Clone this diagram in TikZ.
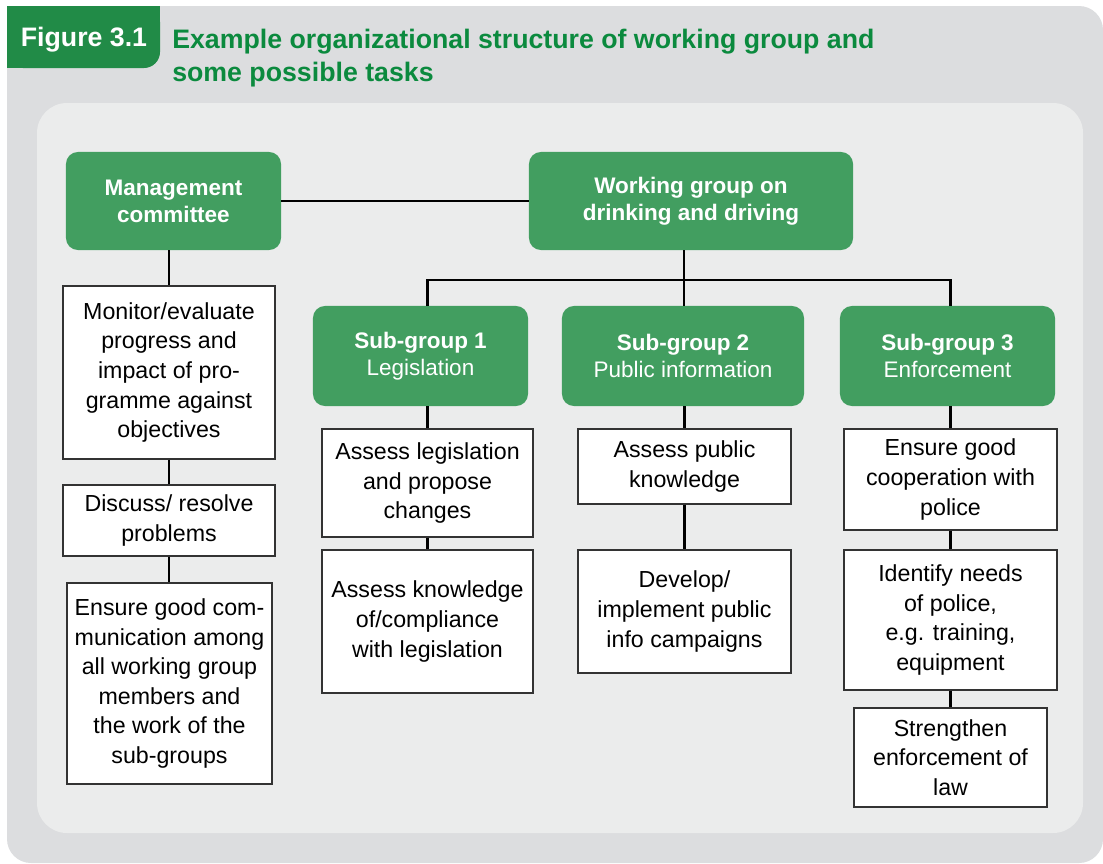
\documentclass[tikz,border=0pt]{standalone}
\usepackage{fontspec}
\setmainfont{Liberation Sans}
\usepackage{tikz}

\definecolor{panelgray}{HTML}{DCDDDF}
\definecolor{innergray}{HTML}{EBECEC}
\definecolor{tabgreen}{HTML}{218B47}
\definecolor{titlegreen}{HTML}{0B8A3E}
\definecolor{boxgreen}{HTML}{429E60}
\definecolor{boxline}{HTML}{333333}

\tikzset{
  greenbox/.style={fill=boxgreen, rounded corners=0.3cm, text=white, align=center,
    font=\fontsize{16}{19.2}\selectfont\bfseries, inner sep=0pt},
  taskbox/.style={draw=boxline, line width=0.8pt, fill=white, align=center,
    font=\fontsize{16.5}{21}\selectfont, inner sep=0pt},
  link/.style={line width=1.8pt}
}

\begin{document}
\begin{tikzpicture}[x=0.025cm, y=-0.025cm]
        \useasboundingbox (0,0) rectangle (1103,863);
        \fill[white] (0,0) rectangle (1103,863);

        % panels
        \fill[panelgray, rounded corners=0.6cm] (7,6) rectangle (1103,863);
        \fill[innergray, rounded corners=0.75cm] (37,103) rectangle (1083,833);

        % heading tab, only its lower right corner is round
        \fill[tabgreen, rounded corners=0.4cm] (7,6) rectangle (160,68);
        \fill[tabgreen] (7,6) rectangle (100,68);
        \fill[tabgreen] (7,6) rectangle (160,40);
        \node[text=white, font=\fontsize{19}{22}\selectfont\bfseries] (fig) at (84,40) {Figure 3.1};
        \node[anchor=west, align=left, inner sep=0pt, text=titlegreen,
              font=\fontsize{19}{23}\selectfont\bfseries] (title) at (172,58)
              {Example organizational structure of working group and\\some possible tasks};

        % green boxes
        \node[greenbox, minimum width=5.375cm, minimum height=2.45cm] (mc) at (173.5,201) {Management\\committee};
        \node[greenbox, minimum width=8.1cm, minimum height=2.45cm] (wg) at (691,201) {Working group on\\drinking and driving};
        \node[greenbox, minimum width=5.375cm, minimum height=2.5cm] (sg1) at (420.5,356) {Sub-group 1\\\mdseries Legislation};
        \node[greenbox, minimum width=6.05cm, minimum height=2.5cm] (sg2) at (683,356) {Sub-group 2\\\mdseries Public information};
        \node[greenbox, minimum width=5.375cm, minimum height=2.5cm] (sg3) at (947.5,356) {Sub-group 3\\\mdseries Enforcement};

        % tasks of the management committee
        \node[taskbox, minimum width=5.3cm, minimum height=4.325cm] (m1) at (169,372.5)
            {Monitor/evaluate\\progress and\\impact of pro-\\gramme against\\objectives};
        \node[taskbox, minimum width=5.3cm, minimum height=1.775cm] (m2) at (169,520.5)
            {Discuss/ resolve\\problems};
        \node[taskbox, minimum width=5.125cm, minimum height=5.025cm] (m3) at (169.5,683.5)
            {Ensure good com-\\munication among\\all working group\\members and\\the work of the\\sub-groups};

        % tasks of sub-group 1
        \node[taskbox, minimum width=5.275cm, minimum height=2.7cm] (l1) at (427.5,483)
            {Assess legislation\\and propose\\changes};
        \node[taskbox, minimum width=5.275cm, minimum height=3.575cm] (l2) at (427.5,621.5)
            {Assess knowledge\\of/compliance\\with legislation};

        % tasks of sub-group 2
        \node[taskbox, minimum width=5.325cm, minimum height=1.875cm] (p1) at (684.5,466.5)
            {Assess public\\knowledge};
        \node[taskbox, minimum width=5.325cm, minimum height=3.075cm] (p2) at (684.5,611.5)
            {Develop/\\implement public\\info campaigns};

        % tasks of sub-group 3
        \node[taskbox, minimum width=5.325cm, minimum height=2.525cm] (e1) at (950.5,479.5)
            {Ensure good\\cooperation with\\police};
        \node[taskbox, minimum width=5.325cm, minimum height=3.5cm] (e2) at (950.5,620)
            {Identify needs\\of police,\\e.g. training,\\equipment};
        \node[taskbox, minimum width=4.825cm, minimum height=2.475cm] (e3) at (950.5,757.5)
            {Strengthen\\enforcement of\\law};

        \coordinate (bus) at (684,280);

        \path [link](mc) edge (wg);
        \draw [link](wg.south -| bus) -- (bus);
        \draw [link](sg1.north -| l1) |- (bus) -| (sg3.north -| e1);
        \draw [link](bus) -- (sg2.north -| bus);

        \draw [link](mc.south -| m1) -- (m1.north);
        \draw [link](m1) -- (m2);
        \draw [link](m2.south) -- (m3.north -| m2);

        \draw [link](sg1.south -| l1) -- (l1.north);
        \draw [link](l1) -- (l2);
        \draw [link](sg2.south -| p1) -- (p1.north);
        \draw [link](p1) -- (p2);
        \draw [link](sg3.south -| e1) -- (e1.north);
        \draw [link](e1) -- (e2);
        \draw [link](e2) -- (e3);
    \end{tikzpicture}
\end{document}
